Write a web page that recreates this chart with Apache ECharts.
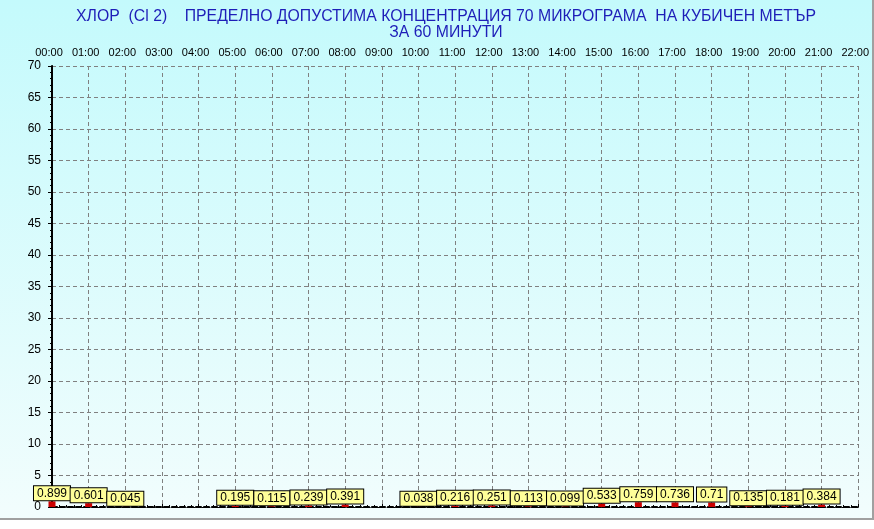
<!DOCTYPE html>
<html>
<head>
<meta charset="utf-8">
<title>Хлор</title>
<script src="https://cdn.jsdelivr.net/npm/echarts@6/dist/echarts.min.js"></script>
<style>
    body { margin: 0; background: #ffffff; }
    #chartDiv {
        width: 872px; height: 518px;
        border-right: 2px solid #a0a0a0;
        border-bottom: 2px solid #a0a0a0;
        background: linear-gradient(#c4fafc, #f2fdfd);
    }
</style>
</head>
<body>
<div id="chartDiv"></div>
<script>
// часове (горна ос)
var hours = ['00:00','01:00','02:00','03:00','04:00','05:00','06:00','07:00','08:00','09:00','10:00','11:00',
             '12:00','13:00','14:00','15:00','16:00','17:00','18:00','19:00','20:00','21:00','22:00'];
// средночасови стойности, null = няма данни
var values = [0.899, 0.601, 0.045, null, null, 0.195, 0.115, 0.239, 0.391, null, 0.038, 0.216,
              0.251, 0.113, 0.099, 0.533, 0.759, 0.736, 0.71, 0.135, 0.181, 0.384, null];
var yMin = 0, yMax = 70, yStep = 5;

var titleText = 'ХЛОР  (Cl 2)    ПРЕДЕЛНО ДОПУСТИМА КОНЦЕНТРАЦИЯ 70 МИКРОГРАМА  НА КУБИЧЕН МЕТЪР\nЗА 60 МИНУТИ';

function initChart(){
    var data = [];
    for (var i = 0; i < values.length; i++) {
        if (values[i] != null) data.push([i, values[i]]);
    }
    var gridDash = { color: '#808080', width: 1, type: [4, 3] };
    var option = {
        animation: false,
        title: {
            text: titleText,
            left: 441,
            top: 4,
            textAlign: 'center',
            textStyle: {
                fontFamily: 'Arial, Liberation Sans',
                fontSize: 15.8,
                fontWeight: 'normal',
                color: '#1e1eb8',
                lineHeight: 16
            }
        },
        // область на графиката: 00:00 при x=52, 22:00 при x=860, 0 при y=507
        grid: { left: 52, right: 12, top: 66, bottom: 11 },
        xAxis: [
            {
                type: 'value',
                position: 'top',
                min: 0, max: hours.length - 1, interval: 1,
                axisLine: { show: true, lineStyle: { color: '#000', width: 2, type: [5, 3] } },
                axisTick: { show: true, length: 3, lineStyle: { color: '#000' } },
                minorTick: { show: true, splitNumber: 5, length: 2, lineStyle: { color: '#000' } },
                axisLabel: {
                    margin: 8,
                    fontFamily: 'Arial, Liberation Sans',
                    fontSize: 11,
                    color: '#000',
                    padding: [0, 6, 0, 0],
                    formatter: function(v){ return hours[v]; }
                },
                splitLine: { show: true, lineStyle: gridDash }
            },
            {
                type: 'value',
                position: 'bottom',
                min: 0, max: hours.length - 1, interval: 1,
                axisLine: { show: true, lineStyle: { color: '#000', width: 1, type: [3, 2] } },
                axisTick: { show: false },
                axisLabel: { show: false },
                splitLine: { show: false }
            }
        ],
        yAxis: [
            {
                type: 'value',
                min: yMin, max: yMax, interval: yStep,
                offset: 5,
                axisLine: { show: true, lineStyle: { color: '#000', width: 2 } },
                axisTick: { show: true, length: 4, lineStyle: { color: '#000' } },
                minorTick: { show: true, splitNumber: 5, length: 2, lineStyle: { color: '#000' } },
                axisLabel: {
                    margin: 6,
                    fontFamily: 'Arial, Liberation Sans',
                    fontSize: 12,
                    color: '#000'
                },
                splitLine: { show: true, lineStyle: gridDash }
            },
            {
                type: 'value',
                position: 'right',
                min: yMin, max: yMax, interval: yStep,
                offset: 5,
                axisLine: { show: true, lineStyle: { color: '#000', width: 1 } },
                axisTick: { show: false },
                axisLabel: { show: false },
                splitLine: { show: false }
            }
        ],
        series: [
            {
                type: 'bar',
                xAxisIndex: 0,
                yAxisIndex: 0,
                barWidth: 7,
                clip: false,
                itemStyle: { color: '#cc0000' },
                label: {
                    show: true,
                    position: 'top',
                    distance: 1,
                    fontFamily: 'Arial, Liberation Sans',
                    fontSize: 12,
                    color: '#000',
                    backgroundColor: '#ffff99',
                    borderColor: '#000',
                    borderWidth: 1,
                    padding: [1, 3, 1, 3],
                    formatter: function(p){ return String(p.value[1]); }
                },
                data: data
            }
        ]
    };
    var myChart = echarts.init(document.getElementById('chartDiv'));
    myChart.setOption(option);
}

initChart();
</script>
</body>
</html>
